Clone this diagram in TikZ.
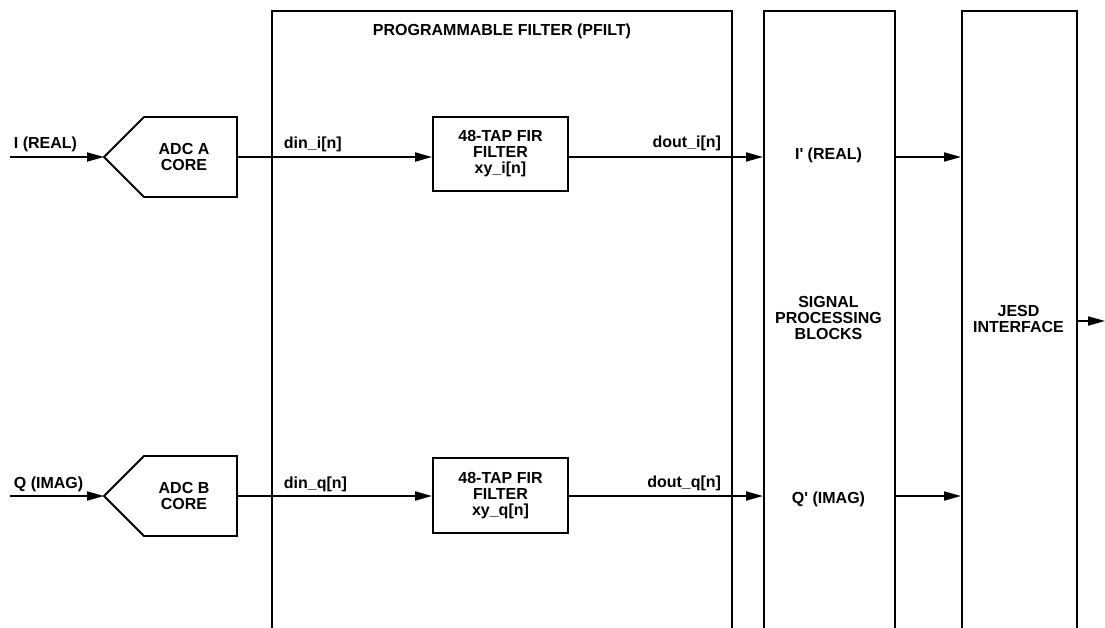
\documentclass[tikz,border=0pt]{standalone}
\usepackage{fontspec}
\setmainfont{Liberation Sans}
\usetikzlibrary{arrows.meta,calc}
\begin{document}
\begin{tikzpicture}[x=1pt,y=-1pt,line width=1.9pt,
  lbl/.style={font=\fontsize{16}{16}\selectfont\bfseries, inner sep=0pt, align=center},
  conn/.style={-{Triangle[length=17pt,width=9pt]}, line width=1.9pt},
  blk/.style={draw, line width=1.9pt, inner sep=0pt},
  tall/.style={blk, anchor=north west, minimum height=660pt}]
\useasboundingbox (0,0) rectangle (1105,628);
\clip (0,0) rectangle (1105,628);

% big open-bottom blocks
\node[tall, minimum width=460pt] (pfilt) at (271,10) {};
\node[tall, minimum width=131pt] (sig) at (763,10) {};
\node[tall, minimum width=115pt] (jesd) at (961,10) {};

\node[lbl, anchor=base] (title) at (502,36) {PROGRAMMABLE FILTER (PFILT)};
\node[lbl] (sigtxt) at (828.5,318) {SIGNAL\\PROCESSING\\BLOCKS};
\node[lbl] (jesdtxt) at (1018.5,319) {JESD\\INTERFACE};

% ---------- I row ----------
\draw (104,157) -- (144,117) -- (237,117) -- (237,197) -- (144,197) -- cycle;
\coordinate (adcAtip) at (104,157);
\coordinate (adcAout) at (237,157);
\coordinate (inI) at (10,157);
\node[lbl] (adcA) at (184,157) {ADC A\\CORE};
\node[blk, lbl, minimum width=135pt, minimum height=74pt] (firI) at (500.5,154) {48-TAP FIR\\FILTER\\xy\_i[n]};
\coordinate (lineI) at (firI.east |- adcAout);

\node[lbl, anchor=base west] (lI) at (13,149) {I (REAL)};
\node[lbl, anchor=base west] (dinI) at (283,149) {din\_i[n]};
\node[lbl, anchor=base east] (doutI) at (722,148) {dout\_i[n]};
\node[lbl] (Ip) at (828.5,155) {I\textquotesingle\ (REAL)};

\draw[conn] (inI) -- (adcAtip);
\draw[conn] (adcAout) -- (firI.west |- adcAout);
\draw[conn] (lineI) -- (sig.west |- lineI);
\draw[conn] (sig.east |- lineI) -- (jesd.west |- lineI);

% ---------- Q row ----------
\draw (104,496) -- (144,456) -- (237,456) -- (237,536) -- (144,536) -- cycle;
\coordinate (adcBtip) at (104,496);
\coordinate (adcBout) at (237,496);
\coordinate (inQ) at (10,496);
\node[lbl] (adcB) at (184,496) {ADC B\\CORE};
\node[blk, lbl, minimum width=135pt, minimum height=75pt] (firQ) at (500.5,495.5) {48-TAP FIR\\FILTER\\xy\_q[n]};
\coordinate (lineQ) at (firQ.east |- adcBout);

\node[lbl, anchor=base west] (lQ) at (13,488) {Q (IMAG)};
\node[lbl, anchor=base west] (dinQ) at (283,488) {din\_q[n]};
\node[lbl, anchor=base east] (doutQ) at (722,487) {dout\_q[n]};
\node[lbl] (Qp) at (828.5,499) {Q\textquotesingle\ (IMAG)};

\draw[conn] (inQ) -- (adcBtip);
\draw[conn] (adcBout) -- (firQ.west |- adcBout);
\draw[conn] (lineQ) -- (sig.west |- lineQ);
\draw[conn] (sig.east |- lineQ) -- (jesd.west |- lineQ);

% ---------- JESD output ----------
\coordinate (outJ) at (1105,321);
\draw[conn] (jesd.east |- outJ) -- (outJ);
\end{tikzpicture}
\end{document}
